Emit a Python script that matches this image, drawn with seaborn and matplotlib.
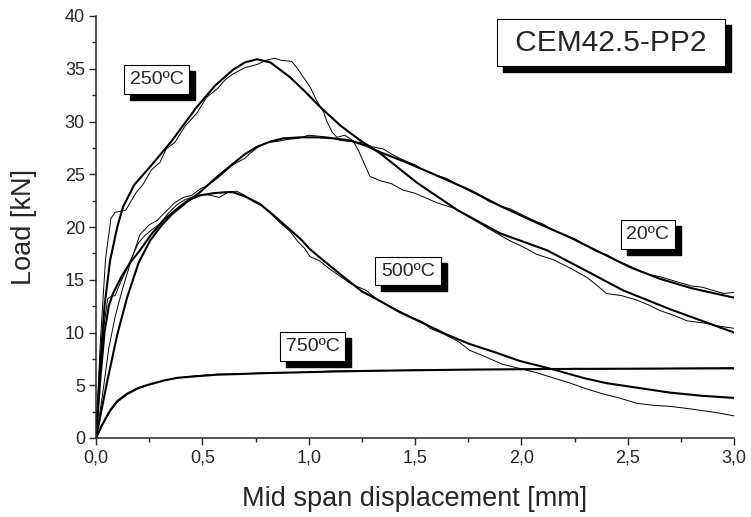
import matplotlib
matplotlib.use('Agg')
import matplotlib.pyplot as plt
from matplotlib.ticker import MultipleLocator, FuncFormatter
from matplotlib.transforms import IdentityTransform
from matplotlib.patches import Rectangle
import seaborn as sns

# Versuchsdaten (duenne Linien) und Modellkurven (dicke Linien)
x_250_exp = [0, 0.02, 0.045, 0.07, 0.09, 0.12, 0.14, 0.16, 0.19, 0.22, 0.26, 0.30, 0.33, 0.37, 0.42,
             0.475, 0.52, 0.57, 0.61, 0.644, 0.70, 0.757, 0.80, 0.84, 0.87, 0.92, 0.945, 0.975, 1.006,
             1.04, 1.07, 1.086, 1.11, 1.133, 1.17, 1.208, 1.235, 1.255, 1.275, 1.288, 1.335, 1.39,
             1.443, 1.50, 1.603, 1.68, 1.758, 1.85, 1.946, 2.01, 2.073, 2.15, 2.23, 2.31, 2.36, 2.40,
             2.47, 2.54, 2.60, 2.65, 2.72, 2.78, 2.86, 2.93, 3.0]
y_250_exp = [0, 9, 17, 20.8, 21.4, 21.5, 21.6, 22.3, 23.3, 24.0, 25.4, 26.1, 27.4, 28.0, 29.6,
             30.8, 32.3, 33.1, 34.0, 34.5, 35.1, 35.4, 35.8, 36.0, 35.8, 35.7, 35.1, 34.2, 33.3,
             31.9, 30.9, 30.0, 29.0, 28.5, 28.7, 28.2, 27.2, 26.3, 25.4, 24.8, 24.4, 24.1,
             23.5, 23.2, 22.3, 21.8, 20.9, 19.8, 18.7, 18.1, 17.4, 16.9, 16.1, 15.2, 14.4, 13.7,
             13.5, 13.1, 12.6, 12.1, 11.6, 11.1, 10.9, 10.6, 10.4]
x_250_fit = [0, 0.02, 0.04, 0.066, 0.1, 0.127, 0.18, 0.254, 0.35, 0.475, 0.56, 0.644, 0.70, 0.757,
             0.82, 0.912, 0.98, 1.053, 1.15, 1.25, 1.335, 1.509, 1.7, 1.9, 2.12, 2.3, 2.478, 2.7,
             2.85, 3.0]
y_250_fit = [0, 7, 12.5, 16.8, 20.0, 21.9, 24.0, 25.7, 28.0, 31.4, 33.4, 34.9, 35.6, 35.9,
             35.6, 34.2, 32.9, 31.4, 29.6, 28.1, 27.0, 24.2, 21.6, 19.4, 17.8, 15.9, 14.0, 12.2,
             11.1, 10.0]

x_20_exp = [0, 0.03, 0.06, 0.09, 0.12, 0.16, 0.207, 0.25, 0.286, 0.33, 0.37, 0.41, 0.45, 0.49,
            0.53, 0.57, 0.61, 0.644, 0.68, 0.70, 0.72, 0.757, 0.80, 0.85, 0.90, 0.95, 1.00, 1.05,
            1.10, 1.15, 1.20, 1.25, 1.30, 1.35, 1.40, 1.45, 1.50, 1.55, 1.60, 1.65, 1.70, 1.758,
            1.80, 1.85, 1.90, 1.95, 2.00, 2.05, 2.10, 2.15, 2.20, 2.25, 2.30, 2.35, 2.40, 2.45,
            2.50, 2.55, 2.60, 2.65, 2.70, 2.75, 2.80, 2.85, 2.90, 2.95, 3.00]
y_20_exp = [0, 4, 8.5, 11.5, 13.8, 16.5, 19.3, 20.2, 20.6, 21.5, 22.3, 22.8, 23.0, 23.6,
            24.0, 24.6, 25.3, 25.9, 26.3, 26.5, 26.9, 27.5, 28.0, 28.1, 28.3, 28.4, 28.7, 28.6,
            28.5, 28.2, 28.1, 28.0, 27.6, 27.4, 26.8, 26.3, 25.9, 25.3, 24.9, 24.6, 24.0, 23.4,
            23.0, 22.4, 22.0, 21.7, 21.2, 20.7, 20.3, 19.7, 19.3, 18.9, 18.3, 17.7, 17.4, 16.8,
            16.4, 15.9, 15.5, 15.3, 15.0, 14.7, 14.4, 14.3, 14.0, 13.7, 13.8]
x_20_fit = [0, 0.05, 0.1, 0.146, 0.2, 0.254, 0.31, 0.362, 0.43, 0.489, 0.56, 0.644, 0.70, 0.757,
            0.82, 0.88, 0.96, 1.04, 1.12, 1.194, 1.27, 1.335, 1.45, 1.6, 1.758, 1.9, 2.05, 2.23,
            2.42, 2.51, 2.65, 2.8, 3.0]
y_20_fit = [0, 5.1, 9.8, 13.3, 16.6, 18.7, 20.2, 21.3, 22.4, 23.3, 24.6, 26.0, 26.9, 27.6,
            28.1, 28.4, 28.5, 28.5, 28.4, 28.2, 27.7, 27.1, 26.2, 24.9, 23.5, 22.0, 20.6, 19.0,
            17.1, 16.2, 15.1, 14.2, 13.3]

x_500_exp = [0, 0.02, 0.04, 0.055, 0.07, 0.09, 0.11, 0.14, 0.17, 0.20, 0.23, 0.26, 0.30, 0.34,
             0.38, 0.42, 0.46, 0.50, 0.54, 0.58, 0.62, 0.66, 0.70, 0.74, 0.78, 0.82, 0.86, 0.912,
             0.95, 0.98, 1.006, 1.05, 1.10, 1.15, 1.20, 1.27, 1.33, 1.40, 1.48, 1.537, 1.57, 1.63,
             1.70, 1.758, 1.82, 1.91, 1.99, 2.07, 2.15, 2.23, 2.30, 2.38, 2.46, 2.54, 2.62, 2.70,
             2.78, 2.85, 2.92, 3.00]
y_500_exp = [0, 6, 11, 13.2, 13.4, 13.5, 14.5, 15.8, 17.2, 18.5, 19.2, 19.7, 20.3, 21.3,
             22.1, 22.6, 22.9, 23.1, 23.0, 22.8, 23.3, 23.4, 23.0, 22.4, 22.0, 21.3, 20.5, 19.6,
             18.6, 18.0, 17.2, 16.8, 16.0, 15.3, 14.6, 14.0, 13.0, 12.3, 11.5, 11.0, 10.4, 9.9,
             9.2, 8.3, 7.8, 7.0, 6.6, 6.2, 5.7, 5.2, 4.7, 4.2, 3.8, 3.3, 3.1, 3.0,
             2.8, 2.6, 2.4, 2.1]
x_500_fit = [0, 0.02, 0.04, 0.06, 0.08, 0.12, 0.16, 0.207, 0.26, 0.32, 0.38, 0.43, 0.49, 0.55,
             0.61, 0.644, 0.70, 0.77, 0.83, 0.898, 0.96, 1.006, 1.053, 1.15, 1.25, 1.335, 1.43,
             1.537, 1.65, 1.758, 1.88, 1.993, 2.15, 2.29, 2.40, 2.50, 2.60, 2.70, 2.85, 3.0]
y_500_fit = [0, 5.5, 10, 12.5, 13.7, 15.3, 16.6, 17.8, 19.3, 20.7, 21.7, 22.5, 23.0, 23.2,
             23.3, 23.3, 22.9, 22.2, 21.2, 20.0, 18.9, 17.9, 17.1, 15.5, 13.9, 13.0, 11.9,
             10.9, 9.8, 8.9, 8.1, 7.3, 6.5, 5.7, 5.2, 4.9, 4.6, 4.3, 4.0, 3.8]

x_750_exp = [0, 0.03, 0.066, 0.10, 0.146, 0.2, 0.254, 0.32, 0.38, 0.47, 0.57, 0.7, 0.8, 0.95,
             1.114, 1.3, 1.5, 1.75, 2.0, 2.25, 2.5, 2.75, 3.0]
y_750_exp = [0, 1.2, 2.5, 3.4, 4.1, 4.7, 5.05, 5.45, 5.7, 5.9, 6.05, 6.1, 6.2, 6.2,
             6.35, 6.35, 6.45, 6.5, 6.5, 6.6, 6.55, 6.6, 6.65]
x_750_fit = [0, 0.03, 0.066, 0.10, 0.146, 0.2, 0.254, 0.32, 0.38, 0.47, 0.57, 0.7, 0.8, 0.95,
             1.114, 1.3, 1.5, 1.75, 2.0, 2.25, 2.5, 2.75, 3.0]
y_750_fit = [0, 1.3, 2.6, 3.5, 4.2, 4.75, 5.1, 5.45, 5.7, 5.85, 6.0, 6.08, 6.15, 6.22,
             6.3, 6.37, 6.42, 6.48, 6.52, 6.55, 6.57, 6.59, 6.6]

# Beschriftungen der Kurven
labels = ['250ºC', '20ºC', '500ºC', '750ºC']
label_x = [0.284, 2.595, 1.467, 1.018]
label_y = [33.97, 19.29, 15.82, 8.69]

##################################################################

sns.set_style('ticks')
plt.rcParams['font.family'] = ['Liberation Sans', 'DejaVu Sans']
plt.rcParams['xtick.direction'] = 'out'
plt.rcParams['ytick.direction'] = 'out'

fig = plt.figure(figsize=(7.51, 5.17), dpi=100)
ax = fig.add_axes([96 / 751, 1 - 438 / 517, (734 - 96) / 751, (438 - 16) / 517])

# duenne Linien = Messung, dicke Linien = Modell
for xs, ys in [(x_250_exp, y_250_exp), (x_20_exp, y_20_exp), (x_500_exp, y_500_exp),
               (x_750_exp, y_750_exp)]:
    sns.lineplot(x=xs, y=ys, ax=ax, color='black', linewidth=0.7, sort=False, estimator=None)
for xs, ys in [(x_250_fit, y_250_fit), (x_20_fit, y_20_fit), (x_500_fit, y_500_fit),
               (x_750_fit, y_750_fit)]:
    sns.lineplot(x=xs, y=ys, ax=ax, color='black', linewidth=1.5, sort=False, estimator=None)

ax.set_xlim(0, 3.0)
ax.set_ylim(0, 40)
ax.xaxis.set_major_locator(MultipleLocator(0.5))
ax.xaxis.set_minor_locator(MultipleLocator(0.25))
ax.yaxis.set_major_locator(MultipleLocator(5))
ax.yaxis.set_minor_locator(MultipleLocator(2.5))
ax.xaxis.set_major_formatter(FuncFormatter(lambda v, p: '{:.1f}'.format(v).replace('.', ',')))
ax.tick_params(which='major', length=5, width=1.0, labelsize=13, pad=3)
ax.tick_params(which='minor', length=3, width=1.0)
sns.despine(ax=ax)
for s in ['left', 'bottom']:
    ax.spines[s].set_linewidth(1.1)

ax.set_xlabel('Mid span displacement [mm]', fontsize=19.5, labelpad=14)
ax.set_ylabel('Load [kN]', fontsize=19.5, labelpad=20)

# Kaesten mit Schatten (Schatten als Rechteck, 6 px versetzt)
boxes = []
for t, lx, ly in zip(labels, label_x, label_y):
    boxes.append(ax.text(lx, ly, t, fontsize=14, ha='center', va='center', zorder=5,
                         bbox=dict(boxstyle='square,pad=0.3', fc='white', ec='black', lw=0.8)))
boxes.append(ax.text(2.421, 37.48, ' CEM42.5-PP2 ', fontsize=21.5, ha='center', va='center', zorder=5,
                     bbox=dict(boxstyle='square,pad=0.33', fc='white', ec='black', lw=0.8)))

fig.canvas.draw()
renderer = fig.canvas.get_renderer()
for b in boxes:
    bb = b.get_bbox_patch().get_window_extent(renderer)
    ax.add_patch(Rectangle((bb.x0 + 6, bb.y0 - 6), bb.width, bb.height, transform=IdentityTransform(),
                           fc='black', ec='black', zorder=4, clip_on=False))

plt.savefig('out.png', dpi=100)
